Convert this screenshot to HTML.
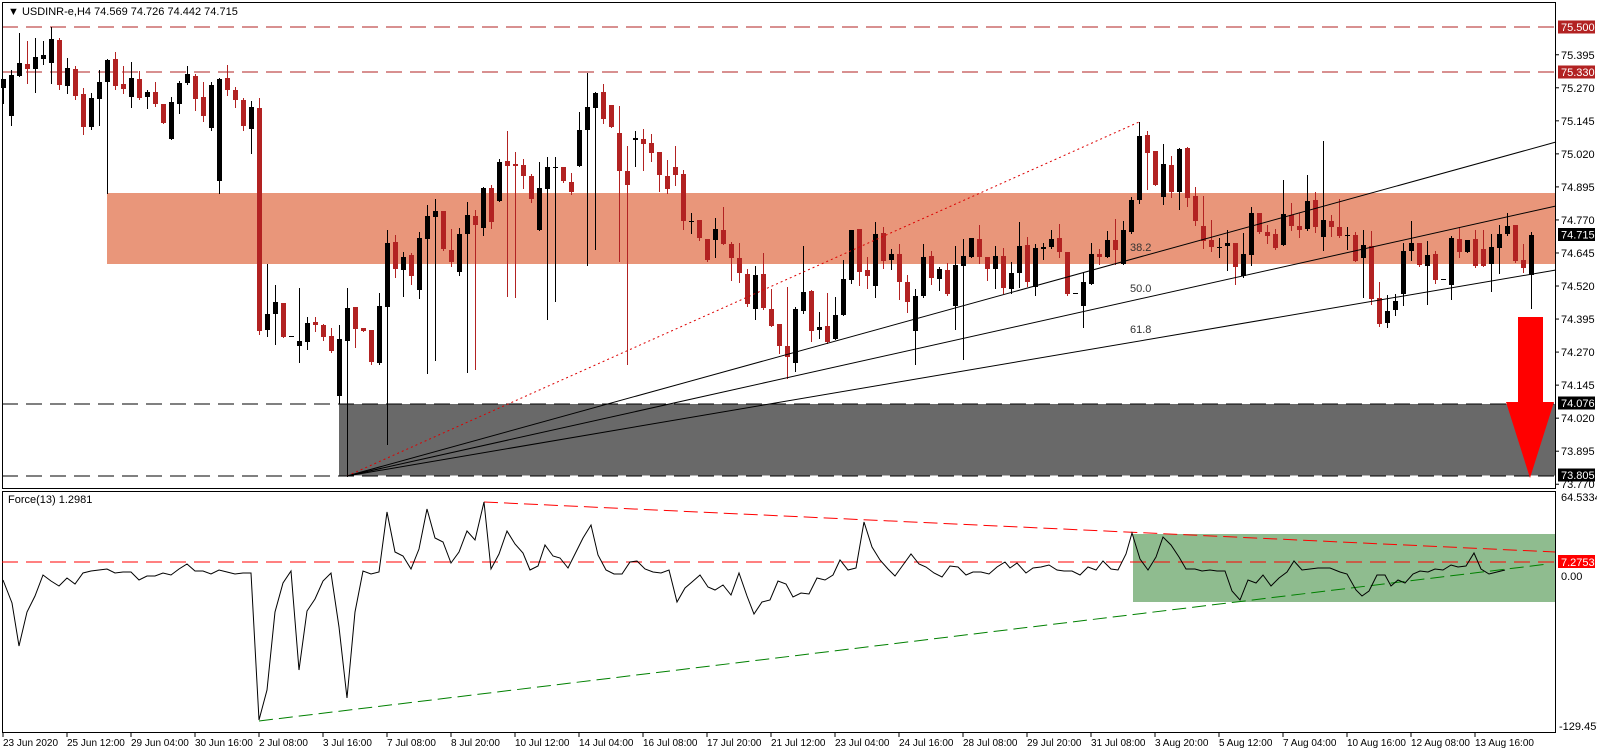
<!DOCTYPE html>
<html><head><meta charset="utf-8"><style>
html,body{margin:0;padding:0;background:#fff;}
svg{display:block;font-family:"Liberation Sans",sans-serif;}
</style></head><body>
<svg id="s" width="1597" height="753" xmlns="http://www.w3.org/2000/svg">
<rect x="0" y="0" width="1597" height="753" fill="#fff"/>
<rect x="107" y="193" width="1449" height="71" fill="#e9967a"/>
<rect x="339" y="404" width="1217" height="72" fill="#696969"/>
<line x1="2" y1="27" x2="1556" y2="27" stroke="#b22222" stroke-dasharray="16,8"/>
<line x1="2" y1="72" x2="1556" y2="72" stroke="#b22222" stroke-dasharray="16,8"/>
<line x1="2" y1="404" x2="1556" y2="404" stroke="#000" stroke-dasharray="16,8"/>
<line x1="2" y1="476" x2="1556" y2="476" stroke="#000" stroke-dasharray="16,8"/>
<line x1="2" y1="476" x2="1556" y2="476" stroke="#fff" stroke-dasharray="8,16" stroke-dashoffset="-16"/>
<g id="candles"></g>
<line x1="347" y1="476" x2="1139" y2="122" stroke="#d00" stroke-dasharray="2,3"/>
<line x1="347" y1="476" x2="1556" y2="142" stroke="#000"/>
<line x1="347" y1="476" x2="1556" y2="206" stroke="#000"/>
<line x1="347" y1="476" x2="1556" y2="270" stroke="#000"/>
<g font-size="11" fill="#333">
<text x="1130" y="251">38.2</text><text x="1130" y="292">50.0</text><text x="1130" y="333">61.8</text>
</g>
<polygon points="1518,317 1543,317 1543,402 1554,402 1530,478 1506,402 1518,402" fill="#ff0000"/>
<rect x="2.5" y="2.5" width="1553" height="486" fill="none" stroke="#000"/>
<rect x="2.5" y="491.5" width="1553" height="241" fill="none" stroke="#000"/>
<text x="8" y="15" font-size="11" fill="#000">▼ USDINR-e,H4  74.569 74.726 74.442 74.715</text>
<g id="axis" font-size="11" fill="#000"></g>
<rect x="1133" y="534" width="422" height="68" fill="#8fbc8f"/>
<line x1="2" y1="562" x2="1556" y2="562" stroke="#ff0000" stroke-dasharray="16,8"/>
<line x1="484" y1="502" x2="1555" y2="552" stroke="#ff0000" stroke-dasharray="14,6"/>
<line x1="259" y1="721" x2="1548" y2="564" stroke="#008000" stroke-dasharray="14,6"/>
<polyline id="force" fill="none" stroke="#000" stroke-width="1"/>
<text x="8" y="503" font-size="11" fill="#000">Force(13) 1.2981</text>
<g id="dates" font-size="10" fill="#000"></g>
</svg>
<script>
var C=[[88,79,79,103],[116,75,70,125],[76,63,33,76],[64,69,41,83],[69,57,38,92],[59,55,41,64],[63,39,27,83],[40,85,38,89],[86,68,58,93],[69,96,66,99],[94,127,88,134],[127,98,93,129],[99,82,70,125],[82,60,59,193],[59,86,52,89],[84,89,66,93],[97,78,62,107],[79,98,71,99],[97,92,90,108],[92,104,82,106],[104,123,104,123],[139,102,97,139],[104,83,81,113],[83,74,66,84],[76,99,74,110],[97,116,82,121],[128,85,82,130],[181,79,78,193],[78,90,65,95],[90,100,87,107],[100,126,98,130],[129,107,101,153],[108,331,98,334],[330,314,264,336],[314,302,285,344],[303,337,303,337],[336,336,336,336],[346,341,288,362],[342,323,317,349],[322,325,317,331],[325,337,324,340],[336,351,328,352],[396,339,325,403],[341,308,288,476],[307,329,307,347],[328,331,328,331],[330,362,330,364],[363,306,293,364],[307,243,230,444],[242,269,235,277],[270,257,252,296],[255,276,253,284],[290,238,232,298],[239,216,205,373],[217,211,199,360],[211,249,211,250],[250,262,229,266],[272,234,228,275],[234,215,202,372],[216,225,210,369],[228,188,187,235],[188,222,185,228],[201,162,159,201],[161,166,131,296],[164,166,152,297],[165,176,159,188],[176,199,174,202],[230,188,162,230],[189,167,157,319],[167,167,157,301],[167,181,167,182],[182,192,173,194],[166,130,112,166],[130,107,73,265],[108,93,92,249],[92,119,84,123],[105,127,105,127],[133,171,106,261],[171,185,146,364],[140,138,131,166],[139,144,129,170],[143,153,134,161],[152,175,152,191],[176,189,160,193],[167,175,146,185],[174,221,170,229],[221,221,213,233],[220,238,220,240],[239,260,239,261],[240,229,218,257],[230,244,207,244],[244,258,242,280],[258,273,243,282],[274,304,269,306],[309,275,266,319],[274,308,253,309],[309,326,289,326],[324,346,324,353],[346,357,287,378],[363,309,307,371],[311,292,246,313],[291,331,290,341],[330,327,312,338],[326,342,293,343],[339,315,297,339],[315,279,260,315],[280,230,230,283],[229,272,229,285],[270,276,257,288],[286,234,222,297],[233,261,227,268],[260,254,249,269],[254,282,244,299],[282,302,275,312],[331,296,289,364],[296,257,244,297],[256,278,251,284],[279,269,267,290],[270,294,263,295],[306,265,246,329],[266,256,239,359],[257,238,238,257],[239,257,225,263],[257,269,257,280],[269,256,246,288],[256,288,248,293],[289,273,262,293],[273,246,222,287],[245,282,237,286],[287,248,244,295],[249,247,243,259],[247,239,230,248],[238,252,224,257],[252,294,252,295],[293,293,293,293],[306,282,273,327],[284,254,243,284],[254,257,249,264],[257,240,231,257],[240,250,219,264],[264,230,221,264],[232,200,197,233],[200,136,122,203],[135,153,131,189],[151,185,151,185],[197,164,144,204],[165,192,156,197],[192,149,148,209],[148,198,147,206],[196,221,187,225],[226,241,196,248],[240,247,220,251],[247,247,238,257],[246,243,230,270],[243,267,243,284],[276,254,233,277],[255,213,207,265],[213,232,213,233],[232,236,225,243],[234,248,229,249],[245,214,180,245],[215,226,203,230],[226,230,213,237],[229,201,175,230],[200,227,192,232],[237,220,141,250],[221,227,215,236],[227,236,199,237],[235,235,227,249],[235,261,232,261],[258,245,230,297],[246,299,231,304],[298,324,282,326],[323,311,295,327],[310,301,294,315],[294,251,243,305],[251,243,221,260],[243,265,243,266],[266,255,241,304],[254,280,251,283],[279,279,279,279],[285,238,236,299],[239,252,227,257],[252,240,240,252],[239,266,230,267],[249,266,230,266],[264,247,234,291],[248,234,225,273],[234,226,213,235],[225,261,225,262],[260,268,244,272],[275,235,232,308]];
var h='';
C.forEach(function(c,i){var x=3+8*i,o=c[0],cl=c[1],col=cl>o?'#b22222':'#000';
var top=Math.min(o,cl),bh=Math.max(1,Math.abs(o-cl));
h+='<rect x="'+x+'" y="'+c[2]+'" width="1" height="'+(c[3]-c[2]+1)+'" fill="'+col+'"/>';
h+='<rect x="'+(x-2)+'" y="'+top+'" width="5" height="'+bh+'" fill="'+col+'"/>';});
document.getElementById('candles').innerHTML=h;
var a='';
var ticks=['75.395','75.270','75.145','75.020','74.895','74.770','74.645','74.520','74.395','74.270','74.145','74.020','73.895','73.770'];
ticks.forEach(function(t){var y=27+(75.5-parseFloat(t))*264.3;a+='<line x1="1556" y1="'+y+'" x2="1559" y2="'+y+'" stroke="#000"/><text x="1561" y="'+(y+4)+'">'+t+'</text>';});
[['75.500',27,'#b22222'],['75.330',72,'#b22222'],['74.715',234.5,'#000'],['74.076',403,'#000'],['73.805',475,'#000']].forEach(function(l){a+='<rect x="1558" y="'+(l[1]-6.5)+'" width="37" height="13" fill="'+l[2]+'"/><text x="1561" y="'+(l[1]+4)+'" fill="#fff">'+l[0]+'</text>';});
a+='<text x="1561" y="501">64.5334</text><rect x="1558" y="555" width="37" height="13" fill="#ff0000"/><text x="1561" y="566" fill="#fff">7.2753</text><text x="1561" y="580">0.00</text><text x="1559" y="730">-129.457</text>';
document.getElementById('axis').innerHTML=a;
var F="3,580 12,603 19,646 27,612 35,596 43,575 51,581 59,586 67,578 75,584 83,573 91,571 99,570 107,569 115,573 123,572 131,572 139,580 147,576 155,576 163,573 171,575 179,569 187,564 195,571 203,571 211,574 219,570 227,572 235,574 243,573 251,573 259,720 267,690 275,612 283,583 291,571 299,670 307,611 315,599 323,581 331,573 339,627 347,698 355,612 363,571 371,574 379,572 387,512 395,552 403,556 411,569 419,549 427,509 435,538 443,542 451,563 459,552 467,531 475,540 484,502 491,569 499,554 507,531 515,544 523,553 530,570 538,566 545,545 553,556 560,558 568,568 576,552 583,538 591,525 598,555 606,570 614,574 622,574 630,562 637,561 645,569 653,572 661,573 669,570 677,602 685,588 692,582 700,575 708,587 715,590 723,585 731,595 739,573 747,596 754,614 762,602 770,600 778,581 786,584 793,597 801,593 809,594 817,578 825,580 833,575 840,560 848,570 856,568 864,522 872,547 880,560 888,569 895,576 903,565 911,554 919,564 926,567 934,573 942,577 950,566 958,567 966,575 973,572 981,572 989,574 997,567 1005,562 1010,568 1017,563 1026,573 1033,568 1041,567 1049,565 1057,570 1064,571 1072,571 1080,575 1088,567 1096,570 1103,561 1111,569 1118,570 1126,554 1132,533 1140,559 1148,570 1156,557 1163,537 1171,545 1179,557 1186,569 1195,569 1202,571 1210,570 1217,571 1225,571 1232,591 1240,600 1248,580 1256,583 1263,575 1271,586 1279,578 1287,572 1294,561 1302,570 1310,569 1318,568 1330,568 1340,572 1347,574 1356,590 1362,596 1369,591 1377,575 1385,575 1391,586 1398,580 1405,583 1413,574 1420,571 1428,572 1435,569 1443,570 1451,565 1458,567 1466,566 1474,553 1481,569 1489,574 1497,572 1505,570";
document.getElementById('force').setAttribute('points',F);
var D=['23 Jun 2020','25 Jun 12:00','29 Jun 04:00','30 Jun 16:00','2 Jul 08:00','3 Jul 16:00','7 Jul 08:00','8 Jul 20:00','10 Jul 12:00','14 Jul 04:00','16 Jul 08:00','17 Jul 20:00','21 Jul 12:00','23 Jul 04:00','24 Jul 16:00','28 Jul 08:00','29 Jul 20:00','31 Jul 08:00','3 Aug 20:00','5 Aug 12:00','7 Aug 04:00','10 Aug 16:00','12 Aug 08:00','13 Aug 16:00'];
var d='';D.forEach(function(t,i){var x=3+64*i;d+='<line x1="'+x+'" y1="733" x2="'+x+'" y2="737" stroke="#000"/><text x="'+x+'" y="746">'+t+'</text>';});
document.getElementById('dates').innerHTML=d;
</script>
</body></html>
